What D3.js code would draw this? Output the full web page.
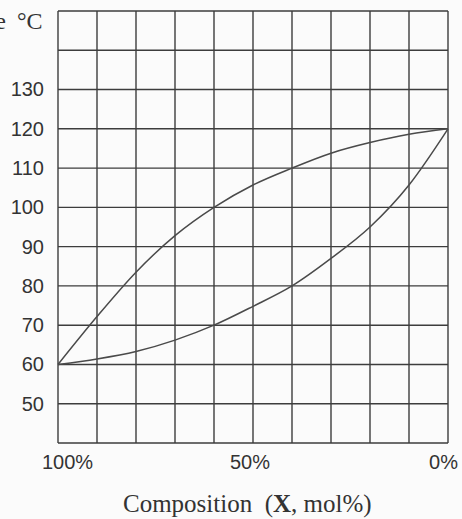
<!DOCTYPE html>
<html>
<head>
<meta charset="utf-8">
<script src="https://cdn.jsdelivr.net/npm/d3@7"></script>
<style>
  html, body { margin: 0; padding: 0; background: #fbfbfb; }
  svg { display: block; }
</style>
</head>
<body>
<div id="chart"></div>
<script>
// composition of X in mol%, left = 100%
let composition = [100, 90, 80, 70, 60, 50, 40, 30, 20, 10, 0];
let upperCurve = [60, 72.2, 83.5, 92.8, 100, 105.7, 110, 113.8, 116.5, 118.6, 120]; // vapour line
let lowerCurve = [60, 61.4, 63.3, 66.2, 70, 74.8, 80, 87, 95, 105.7, 120];       // liquid line
let yTicks = [50, 60, 70, 80, 90, 100, 110, 120, 130];
let xTicks = [100, 50, 0];
let xTickLabels = ['100%', '50%', '0%'];

let width = 462, height = 519;
let plotLeft = 58, plotRight = 448, plotTop = 11, plotBottom = 443;

let svg = d3.select('#chart').append('svg')
  .attr('width', width)
  .attr('height', height);

let x = d3.scaleLinear().domain([100, 0]).range([plotLeft, plotRight]);
let y = d3.scaleLinear().domain([40, 150]).range([plotBottom, plotTop]);

let gridColor = '#3d3d3d';
let sans = '"Liberation Sans", Arial, sans-serif';
let serif = '"Liberation Serif", "Times New Roman", serif';

// grid - every 10 % and every 10 degrees
svg.append('g').selectAll('line')
  .data(d3.range(0, 101, 10))
  .join('line')
  .attr('x1', d => x(d)).attr('x2', d => x(d))
  .attr('y1', plotTop).attr('y2', plotBottom)
  .attr('stroke', gridColor).attr('stroke-width', 1.4);

svg.append('g').selectAll('line')
  .data(d3.range(40, 151, 10))
  .join('line')
  .attr('x1', plotLeft).attr('x2', plotRight)
  .attr('y1', d => y(d)).attr('y2', d => y(d))
  .attr('stroke', gridColor).attr('stroke-width', 1.4);

// y labels
let yAxis = d3.axisLeft(y).tickValues(yTicks).tickSize(0).tickPadding(14);
let gy = svg.append('g').attr('transform', `translate(${plotLeft},0)`).call(yAxis);
gy.select('.domain').remove();
gy.selectAll('text')
  .attr('font-family', sans)
  .attr('font-size', 20)
  .attr('fill', '#333');

// x labels (ends pushed inwards like in the print)
svg.append('g').selectAll('text')
  .data(xTicks)
  .join('text')
  .attr('x', (d, i) => i == 0 ? x(d) - 16 : (i == xTicks.length - 1 ? x(d) + 10 : x(d) - 3))
  .attr('y', 469)
  .attr('text-anchor', (d, i) => i == 0 ? 'start' : (i == xTicks.length - 1 ? 'end' : 'middle'))
  .attr('font-family', sans)
  .attr('font-size', 20)
  .attr('fill', '#333')
  .text((d, i) => xTickLabels[i]);

// curves
let line = d3.line()
  .x((d, i) => x(composition[i]))
  .y(d => y(d))
  .curve(d3.curveMonotoneX);

[upperCurve, lowerCurve].forEach(arr => {
  svg.append('path')
    .attr('d', line(arr))
    .attr('fill', 'none')
    .attr('stroke', '#4a4a4a')
    .attr('stroke-width', 1.5);
});

// y title, the word is cut by the left edge in the original
svg.append('text')
  .attr('x', 6).attr('y', 29)
  .attr('text-anchor', 'end')
  .attr('font-family', serif)
  .attr('font-size', 24)
  .attr('fill', '#333')
  .text('Temperature');

svg.append('text')
  .attr('x', 17).attr('y', 29)
  .attr('font-family', serif)
  .attr('font-size', 24)
  .attr('fill', '#333')
  .text('°C');

// x title
let title = svg.append('text')
  .attr('x', 123).attr('y', 512)
  .attr('font-family', serif)
  .attr('font-size', 25)
  .attr('fill', '#333')
  .attr('xml:space', 'preserve')
  .style('white-space', 'pre');
title.append('tspan').text('Composition  (');
title.append('tspan').attr('font-weight', 'bold').text('X');
title.append('tspan').text(', mol%)');
</script>
</body>
</html>
